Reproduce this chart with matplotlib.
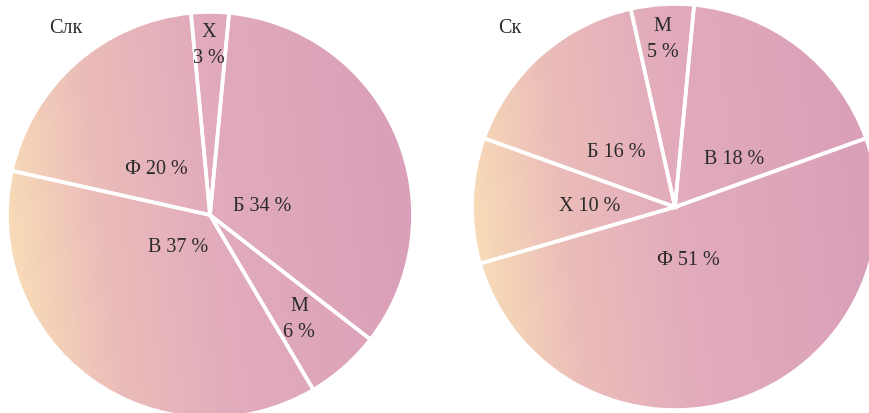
#!/usr/bin/env python
"""Two gradient-filled pie charts: Слк and Ск breakdown."""

import matplotlib

matplotlib.use("Agg")
import matplotlib.pyplot as plt
import numpy as np
from matplotlib.colors import LinearSegmentedColormap

plt.rcParams["font.family"] = ["Liberation Serif", "DejaVu Serif"]

# data
slk_labels = ["Х", "Б", "М", "В", "Ф"]
slk_values = [3, 34, 6, 37, 20]
sk_labels = ["М", "В", "Ф", "Х", "Б"]
sk_values = [5, 18, 51, 10, 16]

# label positions in pie units (radius = 1), same order as the values
slk_label_pos = [(-0.005, 0.84), (0.256, 0.045), (0.44, -0.51), (-0.158, -0.155), (-0.266, 0.23)]
slk_stacked = [True, False, True, False, False]
sk_label_pos = [(-0.06, 0.83), (0.29, 0.24), (0.064, -0.258), (-0.419, 0.005), (-0.29, 0.272)]
sk_stacked = [True, False, False, False, False]

FILL = LinearSegmentedColormap.from_list(
    "peach_pink", [(0.0, "#F8DBB7"), (0.22, "#EBBDB9"), (0.5, "#E2ACBC"), (1.0, "#DA9FB9")]
)
TEXT = "#2b2b2b"
W, H = 869, 414
R = 203


def gradient_pie(fig, cx, cy, values, labels, label_pos, stacked, title, title_pos, startangle):
    ax = fig.add_axes([(cx - R) / W, (H - cy - R) / H, 2 * R / W, 2 * R / H])
    wedges, _ = ax.pie(
        values,
        startangle=startangle,
        counterclock=False,
        radius=1.0,
        wedgeprops={"edgecolor": "white", "linewidth": 2.6, "facecolor": "none"},
    )
    # horizontal gradient, slightly tilted, clipped to each wedge
    xx, yy = np.meshgrid(np.linspace(0, 1, 300), np.linspace(0, 1, 300))
    grad = np.clip(xx + 0.12 * (yy - 0.5), 0, 1)
    for wedge in wedges:
        im = ax.imshow(grad, cmap=FILL, extent=(-1, 1, -1, 1), origin="lower",
                       vmin=0, vmax=1, zorder=0.5, interpolation="bilinear")
        im.set_clip_path(wedge)
        wedge.set_zorder(1)
    for lab, val, (x, y), two_line in zip(labels, values, label_pos, stacked):
        txt = f"{lab}\n{val} %" if two_line else f"{lab} {val} %"
        ax.text(x, y, txt, ha="center", va="center", fontsize=14.5, color=TEXT,
                linespacing=1.45, zorder=3)
    ax.text(title_pos[0], title_pos[1], title, ha="center", va="center",
            fontsize=14.5, color=TEXT, zorder=3)
    ax.set_xlim(-1, 1)
    ax.set_ylim(-1, 1)
    ax.set_aspect("equal")
    ax.axis("off")
    return ax


fig = plt.figure(figsize=(W / 100, H / 100), dpi=100)
gradient_pie(fig, 210, 216, slk_values, slk_labels, slk_label_pos, slk_stacked,
             "Слк", (-0.709, 0.925), startangle=95.4)
gradient_pie(fig, 675, 208, sk_values, sk_labels, sk_label_pos, sk_stacked,
             "Ск", (-0.813, 0.885), startangle=102.6)
fig.savefig("out.png", dpi=100)
